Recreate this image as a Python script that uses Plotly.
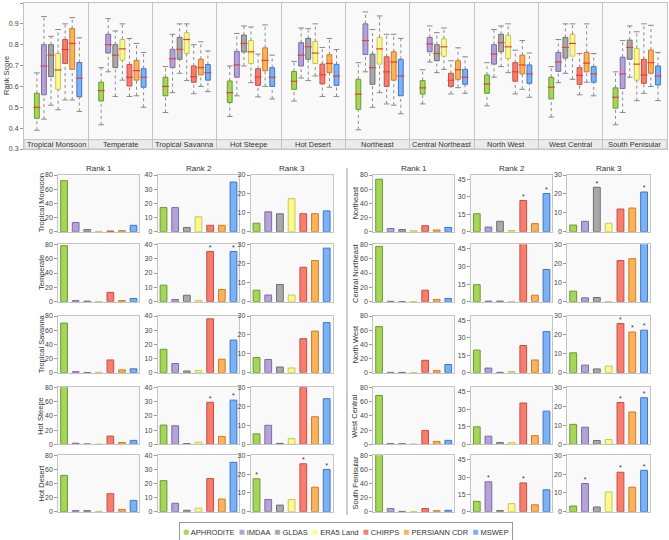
import plotly.graph_objects as go

# ---------------- data ----------------
datasets = ["APHRODITE", "IMDAA", "GLDAS", "ERA5 Land", "CHIRPS", "PERSIANN CDR", "MSWEP"]
fill_colors = ["#a5d65a", "#b4a3d6", "#a9a9a9", "#fbf98e", "#f97d6d", "#fbb25c", "#7db1f6"]
line_colors = ["#6b9a2c", "#7d6aa8", "#707070", "#c9c65a", "#c4504a", "#cf7d25", "#3b77c6"]

regions = ["Tropical Monsoon", "Temperate", "Tropical Savanna", "Hot Steepe", "Hot Desert",
           "Northeast", "Central Northeast", "North West", "West Central", "South Penisular"]

# box statistics per region, one value per dataset (order of `datasets`)
whisker_low = [
    [0.39, 0.443, 0.51, 0.488, 0.535, 0.535, 0.48],
    [0.416, 0.67, 0.552, 0.63, 0.552, 0.555, 0.50],
    [0.475, 0.57, 0.663, 0.628, 0.565, 0.60, 0.575],
    [0.456, 0.555, 0.698, 0.618, 0.55, 0.60, 0.54],
    [0.53, 0.64, 0.628, 0.65, 0.552, 0.596, 0.552],
    [0.392, 0.67, 0.50, 0.57, 0.516, 0.51, 0.469],
    [0.516, 0.717, 0.666, 0.682, 0.564, 0.594, 0.567],
    [0.507, 0.644, 0.695, 0.666, 0.564, 0.586, 0.548],
    [0.453, 0.618, 0.663, 0.634, 0.56, 0.62, 0.555],
    [0.416, 0.475, 0.644, 0.532, 0.567, 0.60, 0.532],
]
quartile1 = [
    [0.447, 0.56, 0.647, 0.586, 0.71, 0.682, 0.55],
    [0.53, 0.76, 0.69, 0.726, 0.602, 0.63, 0.596],
    [0.555, 0.69, 0.73, 0.758, 0.62, 0.655, 0.63],
    [0.523, 0.644, 0.765, 0.71, 0.605, 0.675, 0.60],
    [0.586, 0.698, 0.73, 0.71, 0.612, 0.666, 0.605],
    [0.49, 0.753, 0.61, 0.707, 0.60, 0.63, 0.555],
    [0.563, 0.766, 0.723, 0.745, 0.60, 0.634, 0.61],
    [0.567, 0.707, 0.766, 0.734, 0.625, 0.66, 0.615],
    [0.54, 0.672, 0.736, 0.745, 0.609, 0.67, 0.62],
    [0.496, 0.59, 0.73, 0.63, 0.615, 0.663, 0.607],
]
medians = [
    [0.50, 0.698, 0.75, 0.679, 0.777, 0.806, 0.64],
    [0.58, 0.80, 0.75, 0.78, 0.644, 0.676, 0.644],
    [0.60, 0.733, 0.778, 0.825, 0.647, 0.69, 0.666],
    [0.57, 0.703, 0.806, 0.766, 0.645, 0.725, 0.644],
    [0.625, 0.75, 0.79, 0.76, 0.656, 0.71, 0.65],
    [0.563, 0.82, 0.69, 0.78, 0.67, 0.717, 0.65],
    [0.593, 0.804, 0.758, 0.79, 0.63, 0.68, 0.644],
    [0.612, 0.755, 0.81, 0.79, 0.67, 0.703, 0.66],
    [0.596, 0.717, 0.787, 0.806, 0.653, 0.712, 0.66],
    [0.548, 0.66, 0.787, 0.707, 0.655, 0.714, 0.65],
]
quartile3 = [
    [0.567, 0.80, 0.80, 0.758, 0.825, 0.877, 0.715],
    [0.62, 0.85, 0.80, 0.825, 0.705, 0.725, 0.685],
    [0.644, 0.778, 0.835, 0.857, 0.698, 0.73, 0.705],
    [0.626, 0.768, 0.846, 0.82, 0.685, 0.785, 0.69],
    [0.672, 0.81, 0.83, 0.815, 0.707, 0.752, 0.706],
    [0.634, 0.90, 0.755, 0.835, 0.742, 0.766, 0.73],
    [0.628, 0.835, 0.80, 0.828, 0.663, 0.723, 0.682],
    [0.655, 0.80, 0.85, 0.845, 0.714, 0.75, 0.703],
    [0.644, 0.763, 0.835, 0.85, 0.69, 0.763, 0.695],
    [0.593, 0.74, 0.822, 0.782, 0.73, 0.774, 0.698],
]
whisker_high = [
    [0.665, 0.935, 0.84, 0.873, 0.90, 0.93, 0.833],
    [0.69, 0.925, 0.866, 0.90, 0.83, 0.806, 0.763],
    [0.695, 0.85, 0.90, 0.90, 0.80, 0.814, 0.77],
    [0.698, 0.854, 0.89, 0.885, 0.755, 0.895, 0.75],
    [0.72, 0.88, 0.877, 0.90, 0.787, 0.83, 0.777],
    [0.714, 0.957, 0.873, 0.938, 0.85, 0.85, 0.83],
    [0.68, 0.89, 0.858, 0.88, 0.723, 0.785, 0.742],
    [0.714, 0.873, 0.89, 0.90, 0.774, 0.82, 0.76],
    [0.695, 0.825, 0.90, 0.90, 0.758, 0.90, 0.758],
    [0.67, 0.82, 0.89, 0.862, 0.90, 0.893, 0.763],
]

# percentage of times each dataset is ranked 1st / 2nd / 3rd, per region
rank1_pct = [
    [72, 13, 3, 0.5, 1, 1.5, 9],
    [78, 1.5, 0.8, 0.3, 13, 1.5, 4.5],
    [70, 1.5, 0.3, 0.5, 18, 4, 5.5],
    [81, 1.5, 0.5, 0.2, 11.5, 2.5, 5.5],
    [51.5, 1.5, 1.5, 0.5, 25.5, 3, 16],
    [74, 4.5, 3, 1.5, 8.5, 2.5, 6],
    [77, 0.5, 0, 0, 16, 3, 4.5],
    [65, 0.5, 0.5, 0.2, 17.5, 3, 11.5],
    [68.5, 1, 0.8, 0.3, 19.5, 4, 5.5],
    [81, 4.5, 0.5, 0.3, 4.5, 1.5, 2],
]
rank2_pct = [
    [17, 17, 3, 10.5, 4.5, 4.5, 35],
    [11.5, 1.5, 4.5, 1, 35, 8.5, 35],
    [16.5, 6.5, 1.2, 1.5, 38, 9.5, 23],
    [13.5, 13, 0.5, 1.5, 29.5, 5.5, 31],
    [22, 6, 1, 2.5, 23.5, 9, 35],
    [15.5, 4, 9, 1, 27, 7, 33],
    [14.5, 0.5, 0.5, 0, 50, 5.5, 27.5],
    [19.5, 4, 0.3, 1, 23.5, 11, 35.5],
    [15, 7, 1.5, 1.5, 35.5, 7.5, 28.5],
    [9, 26, 1, 7, 25, 6, 19],
]
rank3_pct = [
    [4.5, 10.5, 9.5, 17.5, 9.5, 9.5, 11],
    [6, 3.5, 9, 3.5, 18, 21.5, 28],
    [8, 7, 3, 2.5, 18, 22, 26.5],
    [5.5, 10, 0.5, 3, 30, 14.5, 24],
    [17.5, 6.5, 3.5, 6.5, 25.5, 13, 22.5],
    [3.5, 5.5, 23.5, 4.5, 12, 12.5, 21],
    [5.5, 2, 2.2, 0, 21.5, 22.5, 31],
    [10.5, 4, 2, 3.5, 26, 21.5, 22.5],
    [10.5, 9, 2, 2.5, 22, 17, 24.5],
    [3, 15, 2.5, 10.5, 21, 13, 22],
]
# datasets flagged with an asterisk (significant), per region
rank1_sig = [[] for _ in regions]
rank2_sig = [[], [4, 6], [], [4, 6], [], [4, 6], [], [], [], [1, 4]]
rank3_sig = [[], [], [], [], [0, 4, 6], [2, 6], [], [4, 5, 6], [4, 6], [1, 4, 6]]

rank_titles = ["Rank 1", "Rank 2", "Rank 3"]
rank_tables = [rank1_pct, rank2_pct, rank3_pct]
rank_sigs = [rank1_sig, rank2_sig, rank3_sig]
yranges_left = [80, 40, 30]
yranges_right = [80, 49, 30]
yticks_left = [[0, 20, 40, 60, 80], [0, 10, 20, 30, 40], [0, 10, 20, 30]]
yticks_right = [[0, 20, 40, 60, 80], [0, 15, 30, 45], [0, 10, 20, 30]]
score_ticks = [0.3, 0.4, 0.5, 0.6, 0.7, 0.8, 0.9, 1.0]

# ---------------- layout helpers ----------------
W, H = 669, 540
FONT = "Liberation Sans, Arial, sans-serif"
GRID = "#c4c4c4"
TXT = "#444444"
FS = 7.5
TICK_FS = 7


def fx(p):
    return p / W


def fy(p):
    return 1 - p / H


def note(x, y, text, **kw):
    d = dict(x=x, y=y, xref="paper", yref="paper", text=text, showarrow=False,
             xanchor="center", yanchor="middle", font=dict(size=FS, color="#333"))
    d.update(kw)
    return d


fig = go.Figure()
layout = dict(
    width=W, height=H, margin=dict(l=0, r=0, t=0, b=0),
    paper_bgcolor="white", plot_bgcolor="#f9f9f9",
    template="none", showlegend=False, barmode="overlay",
    font=dict(family=FONT, size=FS, color=TXT),
)
annotations = []
shapes = []

# ---------------- top box panel ----------------
box_width = 0.075
offsets = [-0.30 + 0.11 * j for j in range(len(datasets))]
for j, name in enumerate(datasets):
    xs = [i + offsets[j] for i in range(len(regions))]
    lo = [whisker_low[i][j] for i in range(len(regions))]
    q1 = [quartile1[i][j] for i in range(len(regions))]
    md = [medians[i][j] for i in range(len(regions))]
    q3 = [quartile3[i][j] for i in range(len(regions))]
    hi = [whisker_high[i][j] for i in range(len(regions))]
    wx, wy = [], []
    for x, a, b, c, d in zip(xs, lo, q1, q3, hi):
        wx += [x, x, None, x, x, None]
        wy += [a, b, None, c, d, None]
    fig.add_trace(go.Scatter(x=wx, y=wy, mode="lines", xaxis="x", yaxis="y",
                             line=dict(color="#8a8a8a", width=1, dash="dot"),
                             hoverinfo="skip"))
    fig.add_trace(go.Scatter(x=xs + xs, y=lo + hi, mode="markers", xaxis="x", yaxis="y",
                             marker=dict(symbol="line-ew", size=4,
                                         line=dict(color="#8a8a8a", width=1)),
                             hoverinfo="skip"))
    fig.add_trace(go.Bar(x=xs, y=[b - a for a, b in zip(q1, q3)], base=q1, width=box_width,
                         xaxis="x", yaxis="y", name=name,
                         marker=dict(color=fill_colors[j], line=dict(color=line_colors[j], width=1))))
    fig.add_trace(go.Scatter(x=xs, y=md, mode="markers", xaxis="x", yaxis="y",
                             marker=dict(symbol="line-ew", size=5,
                                         line=dict(color="#e2403e", width=1.2)),
                             hoverinfo="skip"))

layout["xaxis"] = dict(domain=[fx(24), fx(667)], anchor="y", range=[-0.5, len(regions) - 0.5],
                       tickvals=[i + 0.5 for i in range(len(regions) - 1)], showticklabels=False,
                       ticks="", showgrid=True, gridcolor=GRID, gridwidth=1, zeroline=False,
                       showline=True, mirror=True, linecolor=GRID, automargin=False)
layout["yaxis"] = dict(domain=[fy(149), fy(3)], anchor="x", range=[0.3, 1.0],
                       tickvals=score_ticks, ticktext=[f"{v:g}" for v in score_ticks],
                       ticks="outside", ticklen=3, tickcolor="#999", showgrid=False,
                       zeroline=False, showline=True, mirror=True, linecolor=GRID,
                       tickfont=dict(size=TICK_FS, color=TXT), automargin=False)
shapes.append(dict(type="rect", xref="x domain", yref="y", x0=0, x1=1, y0=0.3, y1=0.345,
                   fillcolor="#ebebeb", line=dict(color=GRID, width=1), layer="below"))
for i, r in enumerate(regions):
    annotations.append(note(i, 0.3225, r, xref="x", yref="y"))
annotations.append(note(fx(7), fy(76), "Rank Score", textangle=-90))

# ---------------- bottom rank panels ----------------
col_px = [[(58.3, 139.3), (157.7, 239.3), (250.7, 332.5)],
          [(373.3, 454.0), (471.0, 552.3), (567.3, 650.0)]]
row_px = [(175, 231.7), (244.3, 301.7), (316, 372.7), (387.3, 444.3), (455.3, 511.7)]
label_x = [41, 355]

n = 2
for half in range(2):
    for r in range(5):
        reg = half * 5 + r
        for k in range(3):
            xa, ya = f"x{n}", f"y{n}"
            vals = rank_tables[k][reg]
            fig.add_trace(go.Bar(x=list(range(len(datasets))), y=vals, width=0.58,
                                 xaxis=xa, yaxis=ya,
                                 marker=dict(color=fill_colors, line=dict(color=line_colors, width=1))))
            sig = rank_sigs[k][reg]
            if sig:
                fig.add_trace(go.Scatter(x=sig, y=[vals[s] for s in sig], mode="text", text=["*"] * len(sig),
                                         textposition="top center", xaxis=xa, yaxis=ya, cliponaxis=False,
                                         textfont=dict(size=7, color="#333"), hoverinfo="skip"))
            x0, x1 = col_px[half][k]
            y0, y1 = row_px[r]
            top = (yranges_left if half == 0 else yranges_right)[k]
            tv = (yticks_left if half == 0 else yticks_right)[k]
            layout[f"xaxis{n}"] = dict(domain=[fx(x0), fx(x1)], anchor=ya, range=[-0.5, len(datasets) - 0.5],
                                       showticklabels=False, ticks="", showgrid=False, zeroline=False,
                                       showline=True, mirror=True, linecolor=GRID, automargin=False)
            layout[f"yaxis{n}"] = dict(domain=[fy(y1), fy(y0)], anchor=xa, range=[0, top], tickvals=tv,
                                       ticks="outside", ticklen=3, tickcolor="#999", showgrid=False,
                                       zeroline=False, showline=True, mirror=True, linecolor=GRID,
                                       tickfont=dict(size=TICK_FS, color=TXT), automargin=False)
            if r == 0:
                annotations.append(note(fx((x0 + x1) / 2), fy(169), rank_titles[k],
                                        font=dict(size=8, color="#333")))
            n += 1
        annotations.append(note(fx(label_x[half]), fy((row_px[r][0] + row_px[r][1]) / 2),
                                regions[reg], textangle=-90, font=dict(size=7.5, color="#333")))

shapes.append(dict(type="line", xref="paper", yref="paper", x0=fx(347), x1=fx(347),
                   y0=fy(168), y1=fy(515), line=dict(color="#999", width=1)))

# ---------------- legend (text with coloured squares) ----------------
legend_text = "  ".join(
    f"<span style='color:{c};font-size:10px'>■</span> {d}" for d, c in zip(datasets, fill_colors))
annotations.append(note(fx(346), fy(531), legend_text, font=dict(size=7.5, color="#333"),
                        bgcolor="white", bordercolor="#999", borderwidth=1, borderpad=3))

layout["annotations"] = annotations
layout["shapes"] = shapes
fig.update_layout(**layout)
fig.write_html("out.html", config={"displayModeBar": False},
               post_script="document.body.style.margin='0';")
